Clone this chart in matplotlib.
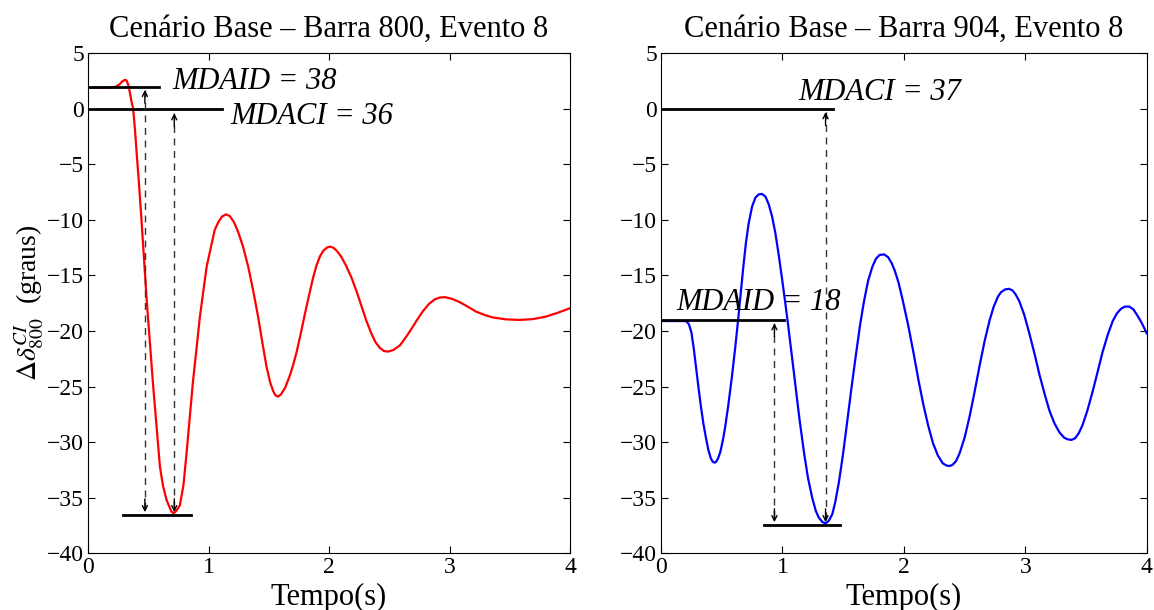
import numpy as np
import matplotlib
matplotlib.use("Agg")
import matplotlib.pyplot as plt

plt.rcParams['font.family'] = ['Liberation Serif', 'DejaVu Serif']
plt.rcParams['mathtext.fontset'] = 'stix'

# Barra 800 - angulo (graus) x tempo (s)
t_800 = [0, 0.1, 0.2, 0.23, 0.26, 0.28, 0.30, 0.31, 0.32, 0.335, 0.35, 0.36,
         0.373, 0.39, 0.40, 0.42, 0.44, 0.485, 0.537, 0.595, 0.62, 0.65, 0.69,
         0.71, 0.73, 0.76, 0.79, 0.817, 0.868, 0.927, 0.983, 1.05, 1.08, 1.11,
         1.144, 1.175, 1.21, 1.245, 1.285, 1.328, 1.37, 1.41, 1.445, 1.48, 1.51,
         1.535, 1.555, 1.575, 1.60, 1.635, 1.674, 1.70, 1.73, 1.765, 1.80, 1.835,
         1.867, 1.895, 1.923, 1.95, 1.98, 2.006, 2.035, 2.065, 2.10, 2.14, 2.186,
         2.23, 2.27, 2.31, 2.35, 2.385, 2.42, 2.455, 2.49, 2.535, 2.587, 2.635,
         2.684, 2.73, 2.78, 2.83, 2.877, 2.92, 2.96, 3.02, 3.085, 3.15, 3.22,
         3.29, 3.36, 3.47, 3.58, 3.69, 3.80, 3.90, 4.0]
d_800 = [1.9, 1.9, 1.92, 2.0, 2.2, 2.45, 2.58, 2.6, 2.5, 2.05, 1.2, 0.6,
         0.0, -2.2, -3.7, -6.6, -9.7, -17.2, -24.7, -32.2, -33.9, -35.2, -36.25,
         -36.4, -36.2, -35.7, -33.9, -30.9, -24.7, -18.7, -14.2, -10.9, -10.2, -9.7,
         -9.5, -9.65, -10.2, -11.1, -12.4, -14.2, -16.4, -18.7, -21.0, -23.2, -24.6,
         -25.4, -25.8, -25.9, -25.7, -25.1, -24.0, -23.1, -21.9, -20.2, -18.4, -16.7,
         -15.2, -14.1, -13.3, -12.8, -12.5, -12.4, -12.5, -12.8, -13.3, -14.1, -15.2,
         -16.5, -17.8, -19.1, -20.2, -21.0, -21.5, -21.8, -21.85, -21.7, -21.3, -20.6,
         -19.8, -19.0, -18.2, -17.55, -17.15, -16.98, -16.95, -17.1, -17.4, -17.8, -18.25,
         -18.55, -18.78, -18.95, -19.0, -18.93, -18.7, -18.35, -17.95]

# Barra 904
t_904 = [0, 0.1, 0.19, 0.212, 0.23, 0.25, 0.27, 0.29, 0.31, 0.33, 0.35, 0.37,
         0.39, 0.41, 0.425, 0.44, 0.455, 0.47, 0.488, 0.51, 0.529, 0.555, 0.584,
         0.61, 0.634, 0.66, 0.68, 0.70, 0.722, 0.75, 0.777, 0.805, 0.832, 0.86,
         0.887, 0.915, 0.942, 0.97, 0.998, 1.02, 1.045, 1.075, 1.108, 1.14, 1.177,
         1.21, 1.245, 1.275, 1.30, 1.33, 1.355, 1.38, 1.41, 1.435, 1.465, 1.50,
         1.535, 1.57, 1.603, 1.64, 1.672, 1.705, 1.741, 1.77, 1.80, 1.837, 1.87,
         1.90, 1.926, 1.955, 1.99, 2.036, 2.08, 2.12, 2.16, 2.20, 2.24, 2.28,
         2.32, 2.35, 2.375, 2.40, 2.43, 2.459, 2.50, 2.541, 2.58, 2.624, 2.665,
         2.707, 2.74, 2.775, 2.80, 2.835, 2.865, 2.895, 2.92, 2.95, 2.99, 3.033,
         3.075, 3.116, 3.16, 3.20, 3.24, 3.28, 3.32, 3.35, 3.38, 3.41, 3.44,
         3.47, 3.51, 3.553, 3.595, 3.636, 3.68, 3.72, 3.755, 3.788, 3.82, 3.857,
         3.89, 3.923, 3.96, 4.0]
d_904 = [-19.1, -19.1, -19.1, -19.15, -19.4, -20.1, -21.6, -23.4, -25.2, -26.9, -28.4, -29.6,
         -30.7, -31.45, -31.75, -31.85, -31.75, -31.45, -30.9, -29.8, -28.6, -26.6, -24.1,
         -21.6, -19.1, -16.2, -14.0, -12.0, -10.3, -8.8, -8.0, -7.7, -7.66, -7.9,
         -8.6, -9.7, -11.2, -13.2, -15.4, -17.2, -19.3, -22.0, -25.0, -27.9, -30.9,
         -33.2, -35.0, -36.2, -36.8, -37.2, -37.3, -37.1, -36.5, -35.4, -33.6, -31.0,
         -28.0, -25.0, -22.3, -19.4, -17.3, -15.5, -14.2, -13.5, -13.15, -13.1, -13.35,
         -13.9, -14.6, -15.6, -17.2, -19.5, -22.0, -24.4, -26.6, -28.5, -30.1, -31.2,
         -31.9, -32.1, -32.15, -32.05, -31.7, -31.0, -29.6, -27.7, -25.6, -23.1, -20.9,
         -19.0, -17.8, -16.9, -16.5, -16.25, -16.2, -16.35, -16.7, -17.3, -18.5, -20.2,
         -22.0, -23.9, -25.7, -27.2, -28.3, -29.1, -29.6, -29.75, -29.8, -29.65, -29.2,
         -28.5, -27.2, -25.5, -23.7, -21.9, -20.3, -19.1, -18.4, -18.0, -17.8, -17.8,
         -18.05, -18.6, -19.3, -20.2]

titles = ['Cenário Base \u2013 Barra 800, Evento 8', 'Cenário Base \u2013 Barra 904, Evento 8']

mdaid = [38, 18]
mdaci = [36, 37]
ref_id = [2.0, -19.0]     # nivel pre-falta
ref_min = [-36.6, -37.5]  # minimo da oscilacao


def vline_arrows(ax, x, y0, y1):
    # seta tracejada com pontas nas duas extremidades
    ax.plot([x, x], [y0, y1], ls=(0, (5, 4)), color='0.2', lw=1)
    for a, b in ((y0, y0 - 1.2), (y1, y1 + 1.2)):
        ax.annotate('', xy=(x, a), xytext=(x, b),
                    arrowprops=dict(arrowstyle='->', color='k', lw=1,
                                    shrinkA=0, shrinkB=0, mutation_scale=9))


fig = plt.figure(figsize=(11.54, 6.10), dpi=100)
ax1 = fig.add_axes([0.0765, 0.093, 0.4174, 0.8197])
ax2 = fig.add_axes([0.5728, 0.093, 0.4209, 0.8197])

ax1.plot(t_800, d_800, color='red', lw=1.6)
ax2.plot(t_904, d_904, color='blue', lw=1.6)

# painel esquerdo
ax1.plot([0, 0.587], [ref_id[0], ref_id[0]], 'k', lw=2)
ax1.plot([0, 1.11], [0, 0], 'k', lw=2)
ax1.plot([0.29, 0.852], [ref_min[0], ref_min[0]], 'k', lw=2)
vline_arrows(ax1, 0.47, ref_id[0] - 0.3, ref_min[0] + 0.3)
vline_arrows(ax1, 0.714, -0.4, ref_min[0] + 0.3)
ax1.text(0.70, 2.5, 'MDAID = %d' % mdaid[0], style='italic', fontsize=22, va='center')
ax1.text(1.18, -0.7, 'MDACI = %d' % mdaci[0], style='italic', fontsize=22, va='center')

# painel direito
ax2.plot([0, 1.42], [0, 0], 'k', lw=2)
ax2.plot([0, 1.01], [ref_id[1], ref_id[1]], 'k', lw=2)
ax2.plot([0.845, 1.47], [ref_min[1], ref_min[1]], 'k', lw=2)
vline_arrows(ax2, 0.934, ref_id[1] - 0.3, ref_min[1] + 0.3)
vline_arrows(ax2, 1.355, -0.3, ref_min[1] + 0.3)
ax2.text(1.13, 1.5, 'MDACI = %d' % mdaci[1], style='italic', fontsize=22, va='center')
ax2.text(0.13, -17.4, 'MDAID = %d' % mdaid[1], style='italic', fontsize=22, va='center')

for ax, title in zip((ax1, ax2), titles):
    ax.set_xlim(0, 4)
    ax.set_ylim(-40, 5)
    ax.set_xticks(range(0, 5))
    ax.set_yticks(range(-40, 6, 5))
    ax.tick_params(direction='in', top=True, right=True, labelsize=17, length=5)
    ax.tick_params(axis='x', pad=3)
    ax.tick_params(axis='y', pad=3)
    ax.set_title(title, fontsize=22, pad=12)
    ax.set_xlabel('Tempo(s)', fontsize=22, labelpad=3)

ax1.set_ylabel(r'$\Delta\delta_{800}^{CI}$  (graus)', fontsize=20, labelpad=0)

fig.savefig('out.png', dpi=100)
